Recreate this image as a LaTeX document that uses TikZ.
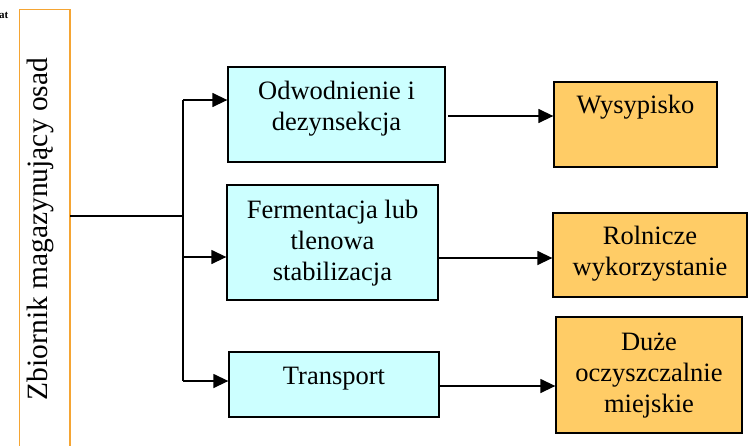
\documentclass[tikz,border=0pt]{standalone}
\usepackage{fontspec}
\setmainfont{Liberation Serif}
\usetikzlibrary{arrows.meta}
\definecolor{procfill}{HTML}{CCFFFF}
\definecolor{destfill}{HTML}{FFCC66}
\definecolor{tankline}{HTML}{F5A533}
\tikzset{
  procbox/.style={draw=black, line width=1.3pt, fill=procfill, inner sep=0pt},
  destbox/.style={draw=black, line width=1.3pt, fill=destfill, inner sep=0pt},
  boxtext/.style={align=center, inner sep=0pt, font=\fontsize{26.5}{31}\selectfont},
  link/.style={line width=1.4pt, draw=black},
  flow/.style={link, -{Triangle[length=15pt,width=14pt]}}
}
\begin{document}
\begin{tikzpicture}[x=1pt, y=-1pt]
  \useasboundingbox (0,0) rectangle (753,445);

  % corner mark
  \node[font=\bfseries\fontsize{11}{12}\selectfont, anchor=east, inner sep=0pt] (mark) at (8.5,15.5) {at};

  % sludge storage tank (open towards the bottom)
  \draw[tankline, line width=1.3pt] (19.5,446) -- (19.5,9.5) -- (70,9.5) -- (70,446);
  \coordinate (tank) at (70,216);
  \node[font=\fontsize{29.5}{32}\selectfont, rotate=90, inner sep=0pt] (tanklabel) at (40,229) {Zbiornik magazynujący osad};

  % treatment stages
  \node[procbox, minimum width=217pt, minimum height=95pt] (odw) at (336.5,114.5) {};
  \node[boxtext] (odwt) at (336.5,109) {Odwodnienie i\\dezynsekcja};
  \node[procbox, minimum width=211pt, minimum height=115pt] (ferm) at (332.5,242.5) {};
  \node[boxtext] (fermt) at (332.5,243) {Fermentacja lub\\tlenowa\\stabilizacja};
  \node[procbox, minimum width=210pt, minimum height=65pt] (trans) at (334,384.5) {};
  \node[boxtext] (transt) at (334,379) {Transport};

  % destinations
  \node[destbox, minimum width=163pt, minimum height=85pt] (wys) at (635.5,124.5) {};
  \node[boxtext] (wyst) at (635.5,107) {Wysypisko};
  \node[destbox, minimum width=194pt, minimum height=84pt] (rol) at (650,255) {};
  \node[boxtext] (rolt) at (650,253.5) {Rolnicze\\wykorzystanie};
  \node[destbox, minimum width=186pt, minimum height=116pt] (duz) at (649,375) {};
  \node[boxtext] (duzt) at (649,375.5) {Duże\\oczyszczalnie\\miejskie};

  % distribution from the tank
  \coordinate (split) at (183,216);
  \coordinate (btop) at (183,100);
  \coordinate (bmid) at (183,257);
  \coordinate (bbot) at (183,381);
  \draw[link] (tank) -- (split);
  \draw[link] (btop) -- (bbot);
  \draw[flow] (btop) -- (btop -| odw.west);
  \draw[flow] (bmid) -- (bmid -| ferm.west);
  \draw[flow] (bbot) -- (bbot -| trans.west);

  % stage outputs
  \coordinate (o1) at (448,116);
  \draw[flow] (o1) -- (o1 -| wys.west);
  \coordinate (o2) at (ferm.east |- 0,258);
  \draw[flow] (o2) -- (o2 -| rol.west);
  \coordinate (o3) at (trans.east |- 0,386);
  \draw[flow] (o3) -- (o3 -| duz.west);
\end{tikzpicture}
\end{document}
